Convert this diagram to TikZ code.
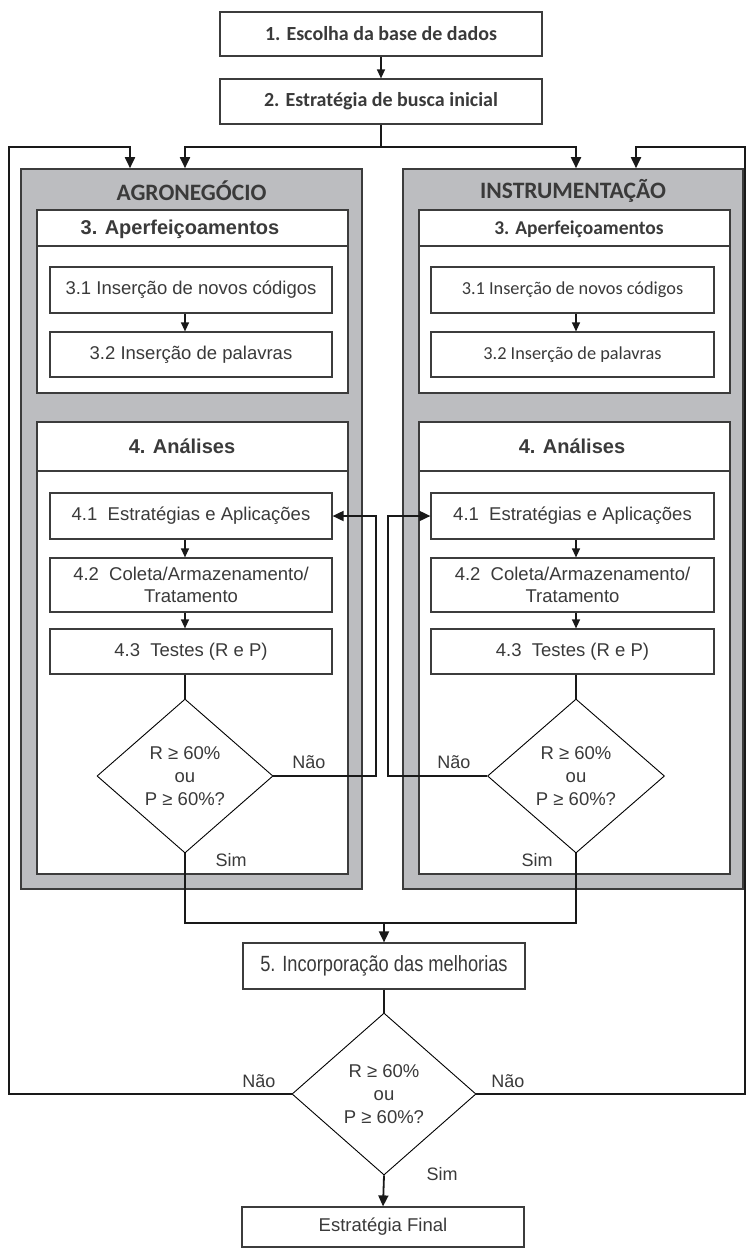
\documentclass[tikz,border=0pt]{standalone}
\usepackage{fontspec}
\usepackage{graphicx}
\setmainfont{Liberation Sans}
\newfontfamily\carl{Carlito}
\usetikzlibrary{shapes.geometric,arrows.meta}
\definecolor{txt}{HTML}{3A3A3A}
\definecolor{panelgray}{HTML}{BCBDC0}
\definecolor{edge}{HTML}{3C3C3C}
\begin{document}
\begin{tikzpicture}[x=1pt,y=-1pt,
  box/.style={draw=edge, line width=1.2pt, fill=white, rectangle, inner sep=0pt, text=txt, align=center},
  panel/.style={draw=edge, line width=1.6pt, fill=panelgray, rectangle, inner sep=0pt},
  dia/.style={draw=black, line width=0.9pt, diamond, fill=white, inner sep=0pt, text=txt, align=center, font=\fontsize{18.5}{23}\selectfont},
  conn/.style={draw=black!90, line width=1.8pt},
  arr/.style={conn, -{Triangle[length=11pt,width=10pt]}},
  sarr/.style={draw=black!90, line width=1.2pt, -{Triangle[length=9pt,width=8pt]}},
  lbl/.style={text=txt, font=\fontsize{18}{22}\selectfont, inner sep=0pt},
  ar18/.style={font=\fontsize{18.5}{22}\selectfont},
  arb20/.style={font=\bfseries\fontsize{20}{24}\selectfont},
  cb20/.style={font=\carl\bfseries\fontsize{20}{24}\selectfont},
  cb23/.style={font=\carl\bfseries\fontsize{23.5}{27}\selectfont},
  cb18/.style={font=\carl\bfseries\fontsize{19.5}{23}\selectfont},
  cr17/.style={font=\carl\fontsize{18.3}{22}\selectfont},
]
\useasboundingbox (0,0) rectangle (745,1248);
\fill[white] (0,0) rectangle (745,1248);

% top boxes
\node[box, cb20, minimum width=322pt, minimum height=44pt] (b1) at (381,34) {1. Escolha da base de dados};
\node[box, cb20, minimum width=322pt, minimum height=45pt] (b2) at (381,101.5) {2. Estratégia de busca inicial};

% panels
\node[panel, minimum width=341pt, minimum height=720pt] (pL) at (191.5,529) {};
\node[panel, minimum width=340pt, minimum height=720pt] (pR) at (573,529) {};
\node[text=txt, cb23, inner sep=0pt] (tL) at (191.5,191) {AGRONEGÓCIO};
\node[text=txt, cb23, inner sep=0pt] (tR) at (573,191) {INSTRUMENTAÇÃO};

% section 3 containers
\node[box, minimum width=311pt, minimum height=183pt] (s3L) at (192.5,301.5) {};
\node[box, minimum width=311pt, minimum height=183pt] (s3R) at (574.5,301.5) {};
\coordinate (h3) at (0,246);
\draw[edge, line width=1.2pt] (s3L.west |- h3) -- (s3L.east |- h3);
\draw[edge, line width=1.2pt] (s3R.west |- h3) -- (s3R.east |- h3);
\node[text=txt, arb20, inner sep=0pt] (h3L) at (180,229) {3. Aperfeiçoamentos};
\node[text=txt, cb18, inner sep=0pt] (h3R) at (579,229) {3. Aperfeiçoamentos};

% section 4 containers
\node[box, minimum width=311pt, minimum height=452pt] (s4L) at (192.5,648) {};
\node[box, minimum width=311pt, minimum height=452pt] (s4R) at (574.5,648) {};
\coordinate (h4) at (0,471);
\draw[edge, line width=1.2pt] (s4L.west |- h4) -- (s4L.east |- h4);
\draw[edge, line width=1.2pt] (s4R.west |- h4) -- (s4R.east |- h4);
\node[text=txt, arb20, inner sep=0pt] (h4L) at (182,446) {4. Análises};
\node[text=txt, arb20, inner sep=0pt] (h4R) at (572,446) {4. Análises};

% left inner boxes
\node[box, ar18, minimum width=282pt, minimum height=46pt] (n31L) at (191,290) {3.1 Inserção de novos códigos};
\node[box, ar18, minimum width=282pt, minimum height=45pt] (n32L) at (191,354.5) {3.2 Inserção de palavras};
\node[box, ar18, minimum width=282pt, minimum height=46pt] (n41L) at (191,516) {4.1~ Estratégias e Aplicações};
\node[box, ar18, minimum width=282pt, minimum height=54pt] (n42L) at (191,585) {4.2~ Coleta/Armazenamento/\\Tratamento};
\node[box, ar18, minimum width=282pt, minimum height=45pt] (n43L) at (191,651.5) {4.3~ Testes (R e P)};

% right inner boxes
\node[box, cr17, minimum width=283pt, minimum height=46pt] (n31R) at (572.5,290) {3.1 Inserção de novos códigos};
\node[box, cr17, minimum width=283pt, minimum height=45pt] (n32R) at (572.5,354.5) {3.2 Inserção de palavras};
\node[box, ar18, minimum width=283pt, minimum height=46pt] (n41R) at (572.5,516) {4.1~ Estratégias e Aplicações};
\node[box, ar18, minimum width=283pt, minimum height=54pt] (n42R) at (572.5,585) {4.2~ Coleta/Armazenamento/\\Tratamento};
\node[box, ar18, minimum width=283pt, minimum height=45pt] (n43R) at (572.5,651.5) {4.3~ Testes (R e P)};

% decisions inside panels
\node[dia, minimum width=176pt, minimum height=154pt] (dL) at (185,776) {R ≥ 60\%\\ou\\P ≥ 60\%?};
\node[dia, minimum width=177pt, minimum height=154pt] (dR) at (576,776) {R ≥ 60\%\\ou\\P ≥ 60\%?};

% connectors inside panels
\draw[sarr] (n31L.south -| dL) -- (n32L.north -| dL);
\draw[sarr] (n41L.south -| dL) -- (n42L.north -| dL);
\draw[sarr] (n42L.south -| dL) -- (n43L.north -| dL);
\draw[conn] (n43L.south -| dL) -- (dL.north);
\draw[sarr] (n31R.south -| dR) -- (n32R.north -| dR);
\draw[sarr] (n41R.south -| dR) -- (n42R.north -| dR);
\draw[sarr] (n42R.south -| dR) -- (n43R.north -| dR);
\draw[conn] (n43R.south -| dR) -- (dR.north);

% top connectors
\draw[sarr] (b1) -- (b2);
\coordinate (top) at (381,147);
\draw[conn] (b2.south) -- (top);
\draw[arr] (top) -| (pL.north -| dL);
\draw[arr] (top) -| (pR.north -| dR);

% loops back to 4.1
\coordinate (loopL) at (376,0);
\coordinate (loopR) at (388,0);
\draw[arr] (dL.east) -| (loopL |- n41L) -- (n41L.east);
\draw[arr] (dR.west) -| (loopR |- n41R) -- (n41R.west);
\node[lbl] (naoL) at (309,762) {Não};
\node[lbl] (simL) at (231,860) {Sim};
\node[lbl] (naoR) at (454,762) {Não};
\node[lbl] (simR) at (537,860) {Sim};

% join to step 5
\node[box, minimum width=282pt, minimum height=46pt, font=\fontsize{22}{26}\selectfont] (b5) at (384,966) {\scalebox{0.83}[1]{5. Incorporação das melhorias}};
\coordinate (join) at (0,923);
\draw[conn] (dL.south) -- (dL.south |- join) -- (dR.south |- join) -- (dR.south);
\draw[arr] (b5.north |- join) -- (b5.north);

% final decision
\node[dia, minimum width=184pt, minimum height=162pt] (dB) at (384,1094) {R ≥ 60\%\\ou\\P ≥ 60\%?};
\draw[conn] (b5.south) -- (dB.north);
\coordinate (fbL) at (9,147);
\coordinate (fbR) at (745,147);
\coordinate (aL) at (130,0);
\coordinate (aR) at (636,0);
\draw[arr] (dB.west) -- (dB.west -| fbL) -- (fbL) -- (fbL -| aL) -- (pL.north -| aL);
\draw[arr] (dB.east) -- (dB.east -| fbR) -- (fbR) -- (fbR -| aR) -- (pR.north -| aR);
\node[lbl] (naoB1) at (259,1081) {Não};
\node[lbl] (naoB2) at (508,1081) {Não};
\node[lbl] (simB) at (442,1174) {Sim};

\node[box, ar18, minimum width=282pt, minimum height=40pt] (bF) at (383,1227) {Estratégia Final};
\draw[arr] (dB.south) -- (bF.north);
\end{tikzpicture}
\end{document}
